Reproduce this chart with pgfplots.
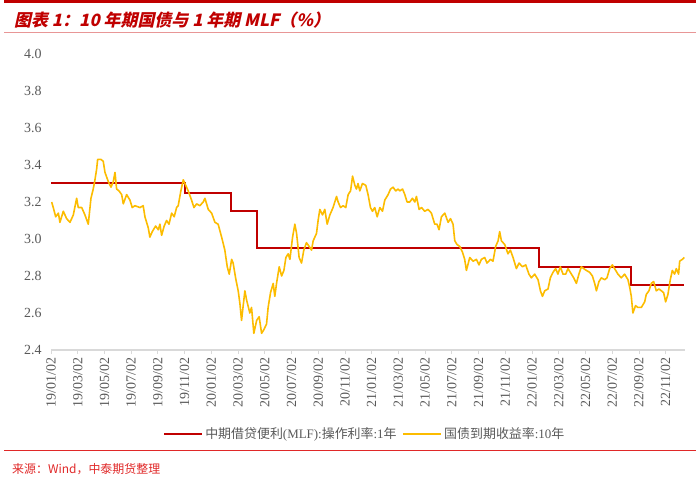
\documentclass[border=0pt]{standalone}
\usepackage{pgfplots}
\pgfplotsset{compat=1.18}
\usepackage{pgfplotstable}
\usepackage{fontspec}
\setmainfont{Liberation Serif}
\newfontfamily\cjk{Noto Sans CJK SC}
\newfontfamily\cjktitle[FakeSlant=0.22]{Noto Sans CJK SC}
\definecolor{mlfred}{RGB}{192,0,0}
\definecolor{ylw}{RGB}{252,188,0}
\definecolor{titlered}{RGB}{192,0,0}
\definecolor{pinkline}{RGB}{232,150,150}
\definecolor{srcred}{RGB}{224,40,40}
\definecolor{tickgray}{RGB}{89,89,89}
\definecolor{axgray}{RGB}{217,217,217}

\pgfplotstableread{
m v
0 3.30
10.02 3.30
10.02 3.25
13.44 3.25
13.44 3.15
15.43 3.15
15.43 2.95
36.50 2.95
36.50 2.85
43.40 2.85
43.40 2.75
47.40 2.75
}\mlf

\pgfplotstableread{
m v
0.05 3.20
0.17 3.17
0.35 3.12
0.55 3.14
0.67 3.09
0.92 3.15
1.17 3.11
1.42 3.09
1.67 3.13
1.92 3.22
2.04 3.17
2.30 3.17
2.54 3.13
2.79 3.08
2.99 3.22
3.16 3.27
3.29 3.32
3.42 3.38
3.49 3.43
3.74 3.43
3.91 3.42
4.04 3.36
4.29 3.31
4.49 3.28
4.66 3.31
4.79 3.36
4.91 3.27
5.09 3.26
5.29 3.24
5.41 3.19
5.66 3.24
5.91 3.21
6.08 3.17
6.28 3.18
6.66 3.17
6.90 3.18
7.03 3.12
7.28 3.06
7.40 3.01
7.58 3.04
7.83 3.07
8.03 3.05
8.15 3.08
8.28 3.02
8.47 3.07
8.65 3.10
8.83 3.08
9.03 3.14
9.22 3.12
9.40 3.17
9.52 3.18
9.72 3.26
9.90 3.32
10.02 3.30
10.27 3.26
10.52 3.21
10.70 3.17
10.90 3.19
11.14 3.18
11.39 3.20
11.52 3.22
11.77 3.16
12.02 3.14
12.27 3.09
12.51 3.08
12.77 3.01
13.01 2.94
13.19 2.85
13.34 2.81
13.52 2.89
13.63 2.87
13.84 2.78
14.01 2.72
14.14 2.65
14.26 2.56
14.51 2.72
14.64 2.67
14.88 2.60
15.01 2.63
15.18 2.49
15.39 2.56
15.58 2.58
15.76 2.49
15.93 2.51
16.13 2.54
16.25 2.63
16.43 2.71
16.63 2.76
16.75 2.69
16.88 2.76
17.08 2.85
17.26 2.80
17.43 2.83
17.58 2.90
17.75 2.92
17.88 2.89
18.08 3.01
18.25 3.08
18.38 3.03
18.57 2.90
18.75 2.87
18.92 2.94
19.12 2.98
19.32 2.96
19.50 2.94
19.62 2.99
19.87 3.03
19.99 3.10
20.12 3.16
20.32 3.13
20.49 3.16
20.67 3.08
20.87 3.13
21.11 3.17
21.37 3.23
21.49 3.20
21.67 3.17
21.86 3.18
22.06 3.17
22.24 3.24
22.42 3.26
22.57 3.34
22.74 3.29
22.86 3.27
22.98 3.30
23.11 3.26
23.31 3.30
23.56 3.29
23.73 3.24
23.91 3.17
24.06 3.15
24.23 3.17
24.41 3.12
24.61 3.17
24.81 3.15
24.98 3.21
25.23 3.24
25.41 3.27
25.60 3.28
25.80 3.26
25.98 3.27
26.10 3.26
26.31 3.27
26.48 3.24
26.65 3.20
26.85 3.20
27.05 3.22
27.23 3.20
27.35 3.23
27.55 3.16
27.73 3.17
27.97 3.15
28.22 3.16
28.47 3.14
28.72 3.08
28.89 3.08
29.04 3.05
29.22 3.12
29.47 3.14
29.72 3.09
29.90 3.11
30.09 3.08
30.22 2.99
30.39 2.97
30.59 2.96
30.79 2.93
30.96 2.89
31.09 2.83
31.34 2.90
31.59 2.88
31.84 2.89
32.03 2.86
32.21 2.89
32.46 2.90
32.63 2.87
32.89 2.89
33.08 2.88
33.28 2.96
33.46 2.99
33.58 3.04
33.71 2.99
33.96 2.97
34.20 2.92
34.38 2.94
34.58 2.90
34.83 2.84
35.03 2.87
35.28 2.85
35.53 2.86
35.77 2.81
35.95 2.79
36.20 2.81
36.45 2.78
36.63 2.72
36.78 2.69
36.95 2.72
37.20 2.73
37.37 2.79
37.57 2.82
37.77 2.84
37.94 2.81
38.12 2.85
38.32 2.81
38.52 2.81
38.69 2.84
38.95 2.81
39.12 2.79
39.32 2.76
39.51 2.81
39.69 2.85
39.87 2.84
40.07 2.83
40.31 2.82
40.52 2.80
40.69 2.76
40.82 2.72
41.01 2.77
41.19 2.79
41.44 2.78
41.61 2.79
41.81 2.84
42.01 2.86
42.18 2.84
42.43 2.81
42.68 2.79
42.93 2.81
43.18 2.78
43.31 2.74
43.43 2.69
43.55 2.60
43.75 2.64
43.92 2.63
44.18 2.63
44.43 2.66
44.55 2.70
44.75 2.72
44.93 2.76
45.10 2.77
45.30 2.72
45.50 2.73
45.68 2.72
45.85 2.71
46.00 2.66
46.17 2.70
46.35 2.78
46.50 2.83
46.67 2.81
46.80 2.84
46.97 2.81
47.05 2.88
47.25 2.89
47.40 2.90
}\gov

\begin{document}
\begin{tikzpicture}
\path[use as bounding box] (0,0) rectangle (700bp,479bp);
% header
\draw[titlered, line width=3bp] (4bp,477bp) -- (696bp,477bp);
\node[anchor=west, inner sep=0pt, text=titlered] at (14bp,459bp)
  {\cjktitle\bfseries\fontsize{17}{19}\selectfont 图表 1：10 年期国债与 1 年期 MLF（\%）};
\draw[pinkline, line width=1bp] (4bp,446bp) -- (696bp,446bp);
% footer
\draw[srcred, line width=1bp] (4bp,28bp) -- (696bp,28bp);
\node[anchor=west, inner sep=0pt, text=srcred] at (12bp,10bp)
  {\cjk\fontsize{12}{14}\selectfont 来源：Wind，中泰期货整理};

\begin{axis}[
  at={(51bp,129bp)}, anchor=south west,
  scale only axis, width=634bp, height=296bp,
  xmin=0, xmax=47.45, ymin=2.4, ymax=4.0,
  axis x line*=bottom, axis y line*=left,
  y axis line style={draw=none},
  x axis line style={draw=axgray, line width=1.2bp},
  xtick={0,2,...,46},
  xticklabels={19/01/02,19/03/02,19/05/02,19/07/02,19/09/02,19/11/02,
               20/01/02,20/03/02,20/05/02,20/07/02,20/09/02,20/11/02,
               21/01/02,21/03/02,21/05/02,21/07/02,21/09/02,21/11/02,
               22/01/02,22/03/02,22/05/02,22/07/02,22/09/02,22/11/02},
  xtick style={draw=axgray, line width=0.8bp},
  tick align=outside,
  major tick length=4bp,
  ytick={2.4,2.6,2.8,3.0,3.2,3.4,3.6,3.8,4.0},
  ytick style={draw=none},
  /pgf/number format/.cd, fixed, fixed zerofill, precision=1, assume math mode=true, /pgfplots/.cd,
  yticklabel style={font=\fontsize{14}{16}\selectfont, text=tickgray, xshift=-2bp},
  xticklabel style={rotate=90, anchor=east, font=\fontsize{14}{16}\selectfont, text=tickgray},
  legend style={at={(0.495,-0.284)}, anchor=center, draw=none, fill=none,
    legend columns=2, font=\fontsize{13}{15}\selectfont, text=tickgray,
    /tikz/every even column/.append style={column sep=4bp}},
  legend cell align=left,
  legend image code/.code={\draw[#1] (0bp,0bp) -- (38bp,0bp);},
]
\addplot[mlfred, line width=2bp, line join=miter] table[x=m, y=v] {\mlf};
\addlegendentry{{\cjk 中期借贷便利}(MLF):{\cjk 操作利率}:1{\cjk 年}}
\addplot[ylw, line width=1.6bp, line join=round] table[x=m, y=v] {\gov};
\addlegendentry{{\cjk 国债到期收益率}:10{\cjk 年}}
\end{axis}
\end{tikzpicture}
\end{document}
